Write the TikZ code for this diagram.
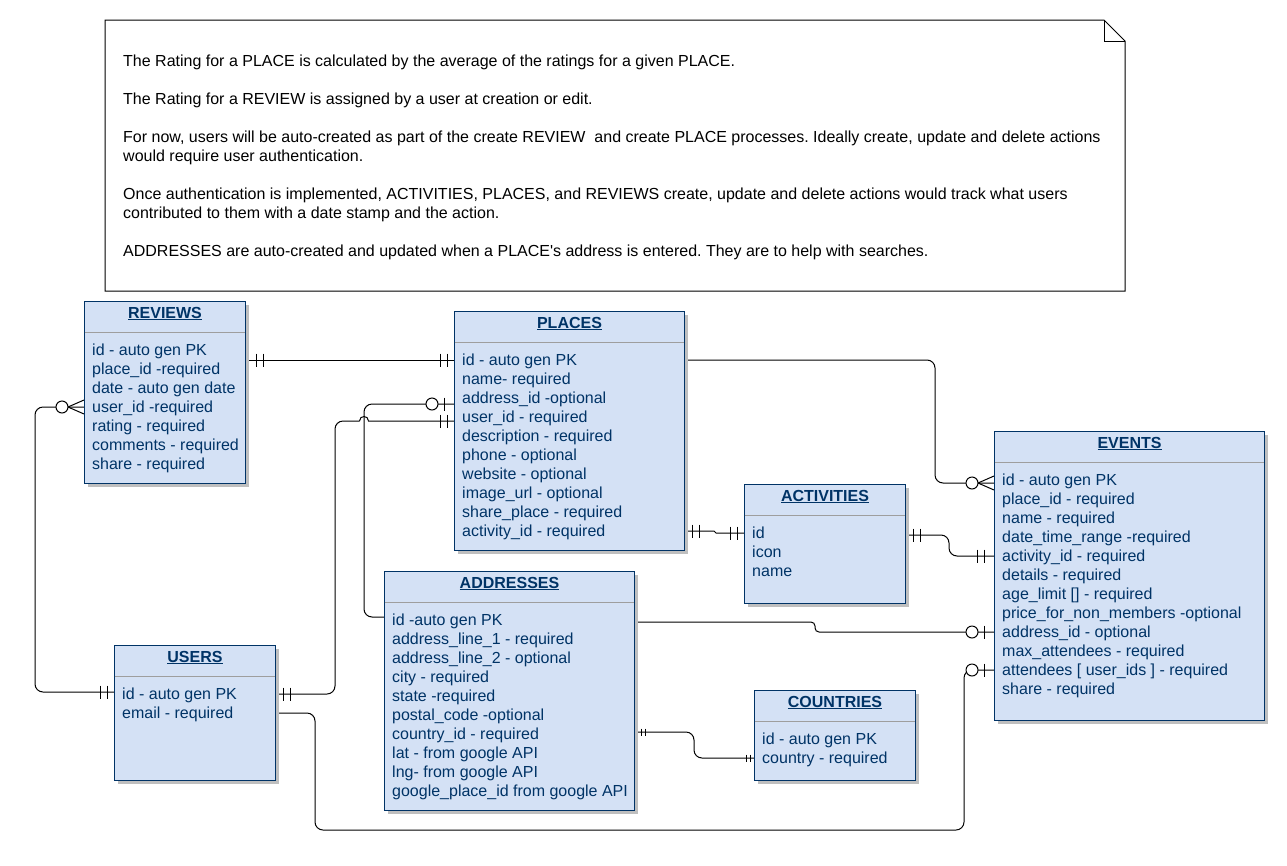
\documentclass[tikz,border=0pt]{standalone}
\usepackage{fontspec}
\setmainfont{Liberation Sans}[Ligatures=TeXOff]
\usetikzlibrary{calc,shadows}
\definecolor{erfill}{HTML}{D4E1F5}
\definecolor{ernavy}{HTML}{003366}
\definecolor{ersep}{HTML}{9E9E9E}
\pgfdeclarelayer{bg}
\pgfsetlayers{bg,main}
\frenchspacing
\newcommand\erfont{\fontsize{16pt}{19pt}\selectfont}
\newcommand\ertable[7]{%
  \node[tblbox, minimum width=#4pt, minimum height=#5pt] (#1) at (#2,#3) {};
  \draw[ersep, line width=1pt] ([xshift=0.6pt,yshift=-31pt]#1.north west) -- ([xshift=-0.6pt,yshift=-31pt]#1.north east);
  \node[tbltitle] (#1-t) at ([yshift=-17pt]#1.north) {\underline{\textbf{#6}}};
  \foreach \rowtext [count=\rowi] in {#7} {
    \node[tblrow] (#1-\rowi) at ([xshift=8pt,yshift={-(30+19*\rowi)*1pt}]#1.north west) {\rowtext};
  }%
}
\newcommand\erOO[2]{\begin{scope}[shift={#1},xscale=#2]\draw[sym] (-7,-6.5)--(-7,6.5) (-14,-6.5)--(-14,6.5);\end{scope}}
\newcommand\erOOs[2]{\begin{scope}[shift={#1},xscale=#2]\draw[sym] (-4,-3.5)--(-4,3.5) (-8,-3.5)--(-8,3.5);\end{scope}}
\newcommand\erZO[2]{\begin{scope}[shift={#1},xscale=#2]\draw[sym,fill=white] (-22,0) circle[radius=6pt];\draw[sym] (-10,-6.5)--(-10,6.5);\end{scope}}
\newcommand\erZM[2]{\begin{scope}[shift={#1},xscale=#2]\draw[sym,fill=white] (-22,0) circle[radius=6pt];\draw[sym] (0,-7)--(-16,0) (0,7)--(-16,0);\end{scope}}
\begin{document}
\begin{tikzpicture}[x=1pt,y=-1pt,
  tblbox/.style={draw=ernavy, fill=erfill, line width=1pt, anchor=north west, inner sep=0pt,
    drop shadow={shadow xshift=3pt, shadow yshift=-3pt, fill=black!25, opacity=1}},
  tbltitle/.style={font=\erfont, text=ernavy, anchor=base, inner sep=0pt},
  tblrow/.style={font=\erfont, text=ernavy, anchor=west, inner sep=0pt, text height=12pt, text depth=1pt},
  notebox/.style={draw=black, line width=1pt, fill=white},
  notetxt/.style={font=\erfont, text=black, anchor=base west, inner sep=0pt},
  conn/.style={draw=black, line width=1pt, rounded corners=8pt},
  sym/.style={draw=black, line width=1pt}]
\useasboundingbox (0,0) rectangle (1287,865);
% note
\draw[notebox] (105,20) -- (1104,20) -- (1125,41) -- (1125,291) -- (105,291) -- cycle;
\draw[notebox, fill=none] (1104,20) -- (1104,41) -- (1125,41);
\node[notetxt] (n1) at (123,66.5) {The Rating for a PLACE is calculated by the average of the ratings for a given PLACE.};
\node[notetxt] (n2) at (123,104.5) {The Rating for a REVIEW is assigned by a user at creation or edit.};
\node[notetxt] (n3) at (123,142.5) {For now, users will be auto-created as part of the create REVIEW\ \ and create PLACE processes. Ideally create, update and delete actions};
\node[notetxt] (n4) at (123,161.5) {would require user authentication.};
\node[notetxt] (n5) at (123,199.5) {Once authentication is implemented, ACTIVITIES, PLACES, and REVIEWS create, update and delete actions would track what users};
\node[notetxt] (n6) at (123,218.5) {contributed to them with a date stamp and the action.};
\node[notetxt] (n7) at (123,256.5) {ADDRESSES are auto-created and updated when a PLACE's address is entered. They are to help with searches.};
% tables
\ertable{rv}{84}{301}{161}{182}{REVIEWS}{{id - auto gen PK},{place\_id -required},{date - auto gen date},{user\_id -required},{rating - required},{comments - required},{share - required}}
\ertable{pl}{454}{311}{230}{239}{PLACES}{{id - auto gen PK},{name- required},{address\_id -optional},{user\_id - required},{description - required},{phone - optional},{website - optional},{image\_url - optional},{share\_place - required},{activity\_id - required}}
\ertable{ev}{994}{431}{270}{289}{EVENTS}{{id - auto gen PK},{place\_id - required},{name - required},{date\_time\_range -required},{activity\_id - required},{details - required},{age\_limit [] - required},{price\_for\_non\_members -optional},{address\_id - optional},{max\_attendees - required},{attendees [ user\_ids ] - required},{share - required}}
\ertable{ac}{744}{484}{161}{119}{ACTIVITIES}{{id},{icon},{name}}
\ertable{ad}{384}{571}{250}{239}{ADDRESSES}{{id -auto gen PK},{address\_line\_1 - required},{address\_line\_2 - optional},{city - required},{state -required},{postal\_code -optional},{country\_id - required},{lat - from google API},{lng- from google API},{google\_place\_id from google API}}
\ertable{us}{114}{645}{161}{135}{USERS}{{id - auto gen PK},{email - required}}
\ertable{co}{754}{690}{161}{90}{COUNTRIES}{{id - auto gen PK},{country - required}}
% connectors
\begin{pgfonlayer}{bg}
\coordinate (c1a) at (rv.east |- pl-1.center);
\coordinate (c1b) at (pl.west |- pl-1.center);
\draw[conn] (c1a) -- (c1b);
\erOO{($(c1a)+(3,0)$)}{-1}
\erOO{(c1b)}{1}
\coordinate (c2a) at (pl.east |- pl-1.center);
\coordinate (c2b) at ($(ev.west |- ev-1.center)+(0,3)$);
\draw[conn] (c2a) -- ++(250,0) |- (c2b);
\erZM{(c2b)}{1}
\coordinate (c3a) at (pl.east |- pl-10.center);
\coordinate (c3b) at (ac.west |- ac-1.center);
\draw[conn, rounded corners=1pt] (c3a) -- ++(30,0) |- (c3b);
\erOO{(c3a)}{-1}
\erOO{(c3b)}{1}
\coordinate (c4a) at ($(ac.east |- ac-1.center)+(0,2)$);
\coordinate (c4b) at (ev.west |- ev-5.center);
\draw[conn] (c4a) -- ++(43,0) |- (c4b);
\erOO{(c4a)}{-1}
\erOO{($(c4b)+(-3,0)$)}{1}
\coordinate (c5a) at ($(ad.east |- ad-1.center)+(0,2)$);
\coordinate (c5b) at (ev.west |- ev-9.center);
\draw[conn, rounded corners=4pt] (c5a) -- ++(180,0) |- (c5b);
\erZO{(c5b)}{1}
\coordinate (c6a) at ($(ad.west |- ad-1.center)+(0,-3)$);
\coordinate (c6b) at ($(pl.west |- pl-3.center)+(0,6)$);
\draw[conn] (c6a) -- ++(-20,0) |- (c6b);
\erZO{(c6b)}{1}
\coordinate (c6v) at ($(c6a)+(-20,0)$);
\coordinate (c7a) at (us.east |- us-1.center);
\coordinate (c7b) at ($(pl.west |- pl-4.center)+(0,4)$);
\coordinate (hop) at (c6v |- c7b);
\draw[conn] (c7a) -- ++(59,0) |- ([xshift=-4.5pt]hop);
\draw[sym] ([xshift=-4.5pt]hop) .. controls ([xshift=-4.5pt,yshift=6pt]hop) and ([xshift=4.5pt,yshift=6pt]hop) .. ([xshift=4.5pt]hop) -- (c7b);
\erOO{(c7a)}{-1}
\erOO{(c7b)}{1}
\coordinate (c8a) at ($(us.west |- us-1.center)+(0,-2)$);
\coordinate (c8b) at (rv.west |- rv-4.center);
\draw[conn] (c8a) -- ++(-79,0) |- (c8b);
\erOO{(c8a)}{1}
\erZM{(c8b)}{1}
\coordinate (c9a) at (us.east |- us-2.center);
\coordinate (c9b) at (ev.west |- ev-11.center);
\draw[conn] (c9a) -| (315,830) -| (964,670) -- (c9b);
\erZO{(c9b)}{1}
\coordinate (c10a) at ($(ad.east |- ad-7.center)+(0,-2)$);
\coordinate (c10b) at (co.west |- co-2.center);
\draw[conn] (c10a) -- ++(59,0) |- (c10b);
\erOOs{($(c10a)+(2,0)$)}{-1}
\erOOs{(c10b)}{1}
\end{pgfonlayer}
\end{tikzpicture}
\end{document}
